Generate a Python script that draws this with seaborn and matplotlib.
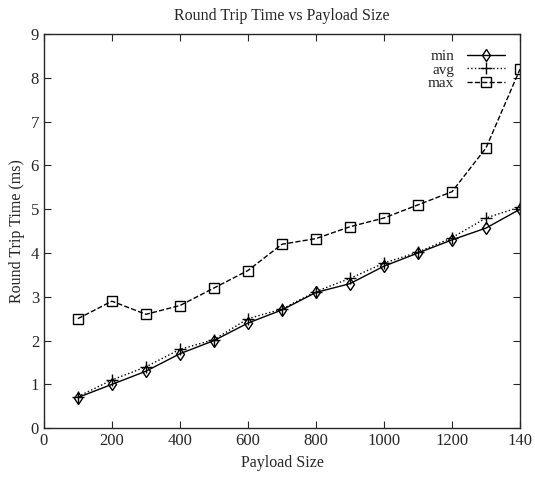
import pandas as pd
import seaborn as sns
import matplotlib.pyplot as plt

# payload sizes and round trip times (ms)
payload = [100, 200, 300, 400, 500, 600, 700, 800, 900, 1000, 1100, 1200, 1300, 1400]
rtt_min = [0.7, 1.0, 1.3, 1.7, 2.0, 2.4, 2.7, 3.1, 3.3, 3.7, 4.0, 4.3, 4.57, 5.0]
rtt_avg = [0.72, 1.1, 1.4, 1.8, 2.02, 2.5, 2.72, 3.12, 3.42, 3.77, 4.02, 4.35, 4.8, 5.05]
rtt_max = [2.5, 2.9, 2.6, 2.8, 3.2, 3.6, 4.2, 4.33, 4.6, 4.8, 5.1, 5.4, 6.4, 8.2]

series = [
    ("min", rtt_min, "-", "d", 6),
    ("avg", rtt_avg, ":", "+", 8),
    ("max", rtt_max, "--", "s", 6.5),
]

sns.set_style("ticks")
plt.rcParams["font.family"] = ["Liberation Serif", "DejaVu Serif"]

fig, ax = plt.subplots(figsize=(5.35, 4.8), dpi=100)
fig.subplots_adjust(left=0.082, right=0.972, bottom=0.108, top=0.929)

for name, vals, ls, mk, ms in series:
    df = pd.DataFrame({"Payload Size": payload, "RTT": vals})
    sns.lineplot(
        data=df,
        x="Payload Size",
        y="RTT",
        ax=ax,
        color="black",
        linestyle=ls,
        linewidth=1.0,
        marker=mk,
        markersize=ms,
        markerfacecolor="none",
        markeredgecolor="black",
        markeredgewidth=1.0,
        label=name,
    )

ax.set_xlim(0, 1400)
ax.set_ylim(0, 9)
ax.set_xticks(range(0, 1401, 200))
ax.set_xticklabels(["0", "200", "400", "600", "800", "1000", "1200", "140"])
ax.set_yticks(range(0, 10))
ax.tick_params(direction="in", top=True, right=True, length=5, labelsize=12)
for s in ax.spines.values():
    s.set_linewidth(1.0)

ax.set_title("Round Trip Time vs Payload Size", fontsize=11.5, pad=10)
ax.set_xlabel("Payload Size", fontsize=11.5)
ax.set_ylabel("Round Trip Time (ms)", fontsize=11.5)

leg = ax.legend(
    loc="upper right",
    frameon=False,
    markerfirst=False,
    fontsize=11,
    handlelength=2.5,
    labelspacing=0.0,
    borderaxespad=0.6,
)

plt.savefig("out.png")
